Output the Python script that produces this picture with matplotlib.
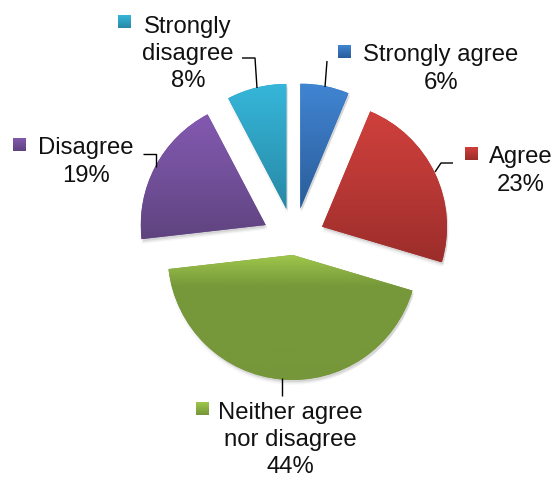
import numpy as np
import matplotlib
matplotlib.use('Agg')
import matplotlib.pyplot as plt
import matplotlib.patheffects as pe
from matplotlib.colors import LinearSegmentedColormap

plt.rcParams['font.family'] = ['Liberation Sans', 'DejaVu Sans']

categories = ['Strongly agree', 'Agree', 'Neither agree\nnor disagree', 'Disagree', 'Strongly\ndisagree']
values = [6.3, 23.3, 43.6, 19.1, 7.7]
shown = [6, 23, 44, 19, 8]
pull = [32, 31, 15, 32, 32]

stops = [
    ['#4085d2', '#3670b5', '#295d9b'],
    ['#cf403c', '#b83835', '#9b2d2a'],
    ['#9fc64c', '#76983a', '#76983a', '#76983a', '#76963a'],
    ['#8359b0', '#72509a', '#5f437f'],
    ['#36b6da', '#2fa0c0', '#2888a5'],
]
key_stops = [
    ['#4085d2', '#295d9b'],
    ['#cf403c', '#9b2d2a'],
    ['#9fc64c', '#76963a'],
    ['#8359b0', '#5f437f'],
    ['#36b6da', '#2888a5'],
]

label_pos = [(441, 69), (521, 171), (290, 440), (86, 162), (188, 54)]
key_pos = [(338, 45), (465, 147), (196, 402), (13, 138), (118, 15)]
leaders = [
    [(325, 87), (327, 61)],
    [(435, 172), (441, 163), (453, 163)],
    [(282, 378), (282, 396)],
    [(143, 154), (156, 154), (156, 167)],
    [(242, 58), (255, 58), (257, 88)],
]

W, H = 555, 478
fig = plt.figure(figsize=(W / 100, H / 100), dpi=100)
ax = fig.add_axes([0, 0, 1, 1])

wedges, _ = ax.pie(values, explode=pull, startangle=90, counterclock=False,
                   radius=125, center=(294, H - 240))


def grad(c):
    return LinearSegmentedColormap.from_list('g', c)


ramp = np.linspace(0, 1, 256).reshape(-1, 1)
for w, c in zip(wedges, stops):
    w.set_facecolor(c[1])
    w.set_linewidth(0)
    w.set_path_effects([
        pe.SimplePatchShadow(offset=(0, -3.5), shadow_rgbFace='k', alpha=0.03),
        pe.SimplePatchShadow(offset=(1, -2.5), shadow_rgbFace='k', alpha=0.06),
        pe.SimplePatchShadow(offset=(1, -1.5), shadow_rgbFace='k', alpha=0.08),
        pe.Normal(),
    ])
    box = w.get_path().get_extents()
    im = ax.imshow(ramp, cmap=grad(c), aspect='auto', zorder=3,
                   extent=(box.x0, box.x1, box.y0, box.y1))
    im.set_clip_path(w)

for name, v, (x, y), (kx, ky), line, c in zip(categories, shown, label_pos, key_pos, leaders, key_stops):
    ax.text(x, H - y, f'{name}\n{v}%', ha='center', va='center', fontsize=17.2,
            color='#111111', linespacing=1.32, zorder=5)
    ax.imshow(ramp, cmap=grad(c), aspect='auto', zorder=5,
              extent=(kx, kx + 13, H - ky - 13, H - ky))
    xs, ys = zip(*line)
    ax.plot(xs, [H - p for p in ys], color='black', lw=1.0, zorder=4, solid_capstyle='butt')

ax.set_xlim(0, W)
ax.set_ylim(0, H)
ax.set_aspect('auto')
ax.axis('off')
fig.savefig('out.png', dpi=100)
